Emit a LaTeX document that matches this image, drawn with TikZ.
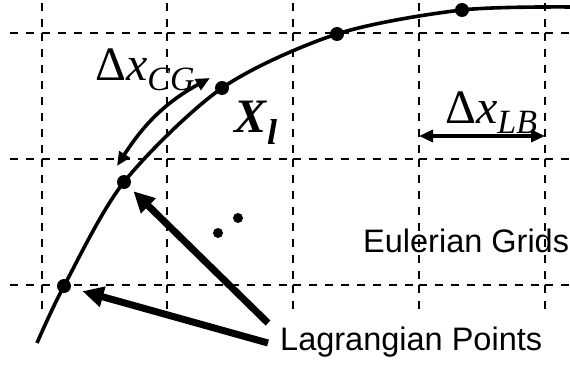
\documentclass[tikz,border=0pt]{standalone}
\usepackage{fontspec}
\setmainfont{Liberation Serif}
\newfontfamily\sansfam{Liberation Sans}
\usetikzlibrary{arrows.meta}

\newcommand\dlabel[1]{\fontsize{48}{48}\selectfont Δ\textit{x}\raisebox{-10pt}{\fontsize{34}{34}\selectfont\textit{#1}}}

\begin{document}
\begin{tikzpicture}[yscale=-1
,gridline/.style={color=black,line width=2pt,dash pattern=on 8pt off 8pt}
,curveline/.style={color=black,line width=3.6pt}
,lpt/.style={circle,fill=black,inner sep=0,minimum size=14pt}
,smalldot/.style={circle,fill=black,inner sep=0,minimum size=10pt}
,dimline/.style={color=black,line width=3.6pt,{Triangle[length=14pt,width=12pt]}-{Triangle[length=14pt,width=12pt]}}
,leader/.style={color=black,line width=7pt,-{Triangle[length=21pt,width=20pt]}}
,lbl/.style={inner sep=0,anchor=base west}
]
\useasboundingbox (0pt,0pt) rectangle (570pt,364pt);
% Eulerian grid
\foreach \y in {33,159,285}{
  \foreach \a/\b in {10/42,42/167,167/293,293/419,419/545,545/572}
    \draw[gridline] (\a pt,\y pt) -- (\b pt,\y pt);
}
\foreach \x in {42,167,293,419,545}{
  \foreach \a/\b in {3/33,33/159,159/285,285/310}
    \draw[gridline] (\x pt,\a pt) -- (\x pt,\b pt);
}
% Lagrangian points on the boundary
\node[lpt] (p1) at (64pt,286pt) {};
\node[lpt] (p2) at (124pt,182pt) {};
\node[lpt] (p3) at (222pt,88pt) {};
\node[lpt] (p4) at (337pt,34pt) {};
\node[lpt] (p5) at (462pt,10pt) {};
\coordinate (c0) at (37pt,343pt);
\coordinate (c6) at (574pt,7pt);
\draw[curveline] plot[smooth] coordinates {(c0) (p1.center) (p2.center) (p3.center) (p4.center) (p5.center) (c6)};
\node[smalldot] (d1) at (218pt,233pt) {};
\node[smalldot] (d2) at (238pt,218pt) {};
% spacings
\coordinate (cga) at (117pt,166pt);
\coordinate (cgb) at (210pt,78pt);
\draw[dimline] (cga) .. controls (144pt,124pt) and (166pt,102pt) .. (cgb);
\coordinate (lba) at (419pt,136pt);
\coordinate (lbb) at (545pt,136pt);
\draw[dimline] (lba) -- (lbb);
% labels
\node[lbl] (cg) at (95pt,80pt) {\dlabel{CG}};
\node[lbl] (lb) at (445pt,123pt) {\dlabel{LB}};
\node[lbl] (xl) at (234pt,132pt) {\fontsize{48}{48}\selectfont\textbf{\textit{X}}\raisebox{-12pt}{\fontsize{36}{36}\selectfont\textbf{\textit{l}}}};
\node[lbl] (eg) at (363pt,252pt) {\sansfam\fontsize{32.5}{32.5}\selectfont Eulerian Grids};
\node[lbl] (lp) at (280pt,350pt) {\sansfam\fontsize{32.5}{32.5}\selectfont Lagrangian Points};
\coordinate (la) at (268pt,323pt);
\coordinate (lc) at (268pt,343pt);
\draw[leader,shorten >=6pt] (la) -- (p2);
\draw[leader,shorten >=12pt] (lc) -- (p1);
\end{tikzpicture}
\end{document}
